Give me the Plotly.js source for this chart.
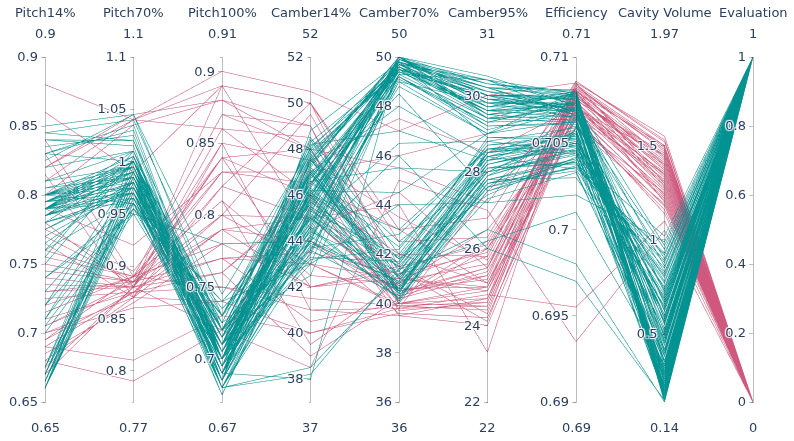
<!DOCTYPE html>
<html>
<head>
<meta charset="utf-8">
<script src="https://cdn.plot.ly/plotly-3.0.1.min.js"></script>
<style>
  html, body { margin: 0; padding: 0; background: #fff; }
  #chart { width: 794px; height: 441px; }
</style>
</head>
<body>
<div id="chart"></div>
<script>
// row groups: 22 fail, 50 pass, 14 fail, 30 pass, 10 fail, 30 pass (see evaluation)
const pitch14 = [
  0.88, 0.83, 0.82, 0.76, 0.75, 0.74, 0.71, 0.70, 0.69, 0.68, 0.66, 0.72, 0.77, 0.81, 0.73, 0.79, 0.69, 0.755, 0.70, 0.86, 0.745, 0.675,
  0.79, 0.80, 0.78, 0.85, 0.84, 0.83, 0.665, 0.67, 0.66, 0.70, 0.72, 0.76, 0.79, 0.80, 0.785, 0.795, 0.67, 0.675, 0.74, 0.81, 0.78, 0.79, 0.835, 0.665,
  0.66, 0.71, 0.73, 0.755, 0.785, 0.80, 0.845, 0.79, 0.67, 0.675, 0.77, 0.795, 0.805, 0.72, 0.78, 0.84, 0.665, 0.79, 0.705, 0.80, 0.785, 0.825, 0.66, 0.795, 0.75, 0.79,
  0.84, 0.78, 0.725, 0.705, 0.695, 0.765, 0.735, 0.685, 0.80, 0.715, 0.775, 0.67, 0.815, 0.745,
  0.79, 0.80, 0.785, 0.665, 0.67, 0.79, 0.795, 0.83, 0.78, 0.66, 0.805, 0.79, 0.74, 0.785, 0.80, 0.675, 0.79, 0.82, 0.765, 0.795, 0.665, 0.79, 0.71, 0.80, 0.785, 0.66, 0.79, 0.845, 0.775, 0.795,
  0.73, 0.69, 0.76, 0.705, 0.82, 0.68, 0.75, 0.715, 0.78, 0.695,
  0.79, 0.80, 0.665, 0.785, 0.795, 0.67, 0.78, 0.81, 0.66, 0.79, 0.80, 0.775, 0.675, 0.79, 0.83, 0.785, 0.665, 0.795, 0.76, 0.80, 0.79, 0.67, 0.785, 0.84, 0.79, 0.66, 0.80, 0.72, 0.795, 0.785
]
const pitch70 = [
  1.04, 0.88, 1.045, 0.89, 0.885, 0.88, 0.875, 0.87, 0.81, 0.79, 0.96, 0.89, 0.885, 1.04, 0.88, 0.92, 0.875, 0.89, 0.86, 0.99, 0.885, 0.88,
  0.98, 0.99, 0.97, 1.045, 1.02, 1.00, 0.96, 0.97, 0.98, 0.95, 0.99, 1.00, 1.01, 0.96, 0.975, 0.985, 0.99, 1.005, 0.95, 0.995, 0.965, 1.00, 1.025, 0.975,
  0.955, 0.985, 0.97, 1.01, 0.99, 0.98, 1.04, 0.96, 0.995, 0.965, 0.975, 1.00, 0.985, 0.99, 0.97, 1.015, 0.98, 0.995, 0.955, 1.005, 0.975, 1.045, 0.965, 0.985, 1.00, 0.97,
  0.89, 0.88, 0.875, 0.885, 0.89, 0.87, 0.88, 0.865, 1.035, 0.89, 0.895, 0.88, 0.87, 0.885,
  0.98, 0.995, 0.975, 0.985, 0.965, 1.005, 0.99, 1.03, 0.97, 0.98, 0.995, 0.985, 0.96, 1.0, 0.975, 0.99, 0.965, 1.01, 0.98, 0.995, 0.975, 1.005, 0.96, 0.985, 0.97, 1.0, 0.99, 1.02, 0.98, 0.975,
  0.885, 0.875, 0.89, 0.88, 1.04, 0.87, 0.885, 0.89, 0.88, 0.875,
  0.985, 0.99, 0.975, 1.0, 0.97, 0.985, 0.995, 1.01, 0.96, 0.98, 1.0, 0.975, 0.99, 0.985, 1.035, 0.97, 0.98, 0.995, 0.965, 1.005, 0.98, 0.99, 0.975, 1.02, 0.985, 0.97, 0.995, 0.955, 1.0, 0.98
]
const pitch100 = [
  0.90, 0.89, 0.88, 0.87, 0.84, 0.82, 0.80, 0.79, 0.73, 0.72, 0.71, 0.78, 0.85, 0.86, 0.76, 0.83, 0.80, 0.81, 0.74, 0.89, 0.77, 0.72,
  0.70, 0.69, 0.71, 0.745, 0.72, 0.73, 0.68, 0.675, 0.69, 0.70, 0.72, 0.71, 0.70, 0.685, 0.715, 0.705, 0.69, 0.68, 0.78, 0.70, 0.73, 0.72, 0.695, 0.71,
  0.70, 0.675, 0.69, 0.705, 0.685, 0.72, 0.73, 0.74, 0.68, 0.695, 0.70, 0.71, 0.69, 0.72, 0.705, 0.685, 0.70, 0.715, 0.73, 0.695, 0.70, 0.72, 0.685, 0.71, 0.69, 0.705,
  0.87, 0.83, 0.79, 0.77, 0.75, 0.82, 0.86, 0.78, 0.88, 0.81, 0.84, 0.76, 0.85, 0.80,
  0.70, 0.715, 0.69, 0.70, 0.685, 0.725, 0.71, 0.70, 0.695, 0.68, 0.705, 0.72, 0.71, 0.70, 0.735, 0.69, 0.70, 0.715, 0.68, 0.705, 0.72, 0.695, 0.71, 0.70, 0.725, 0.685, 0.70, 0.72, 0.69, 0.71,
  0.79, 0.75, 0.83, 0.77, 0.89, 0.74, 0.80, 0.78, 0.84, 0.76,
  0.705, 0.69, 0.70, 0.715, 0.685, 0.72, 0.70, 0.695, 0.71, 0.69, 0.725, 0.70, 0.68, 0.71, 0.70, 0.695, 0.715, 0.70, 0.73, 0.685, 0.705, 0.69, 0.72, 0.70, 0.71, 0.68, 0.695, 0.74, 0.705, 0.70
]
const camber14 = [
  50.5, 50, 49, 48, 46, 45, 43, 42, 40, 38.5, 47, 44, 41, 48.5, 39, 46.5, 49.5, 42.5, 45.5, 44.5, 40.5, 47.5,
  46, 47, 45, 48, 44, 46.5, 43.5, 45.5, 47.5, 44.5, 46, 48.5, 43, 45, 46.5, 47, 38, 38.5, 44, 45.8, 47.8, 42.5, 46.2, 44.8,
  47.2, 45.2, 43.8, 46.8, 47.6, 44.2, 48.2, 45.6, 38.2, 46.4, 43.2, 47.4, 45.4, 44.6, 46.6, 48.8, 43.6, 45.8, 47.0, 44.0, 46.0, 47.7, 45.0, 43.4, 46.3, 47.3,
  49, 47, 45, 43.5, 41.5, 50, 46, 44, 48, 39.5, 42, 45.8, 47.5, 43,
  45.5, 46.9, 44.3, 47.1, 45.3, 48.0, 43.9, 46.1, 47.5, 44.7, 45.9, 47.9, 43.3, 46.7, 44.9, 47.0, 45.7, 48.4, 44.1, 46.2, 47.4, 43.7, 46.5, 45.1, 47.8, 44.5, 46.0, 47.6, 45.3, 44.6,
  44, 41, 47, 43, 50, 40, 45, 42, 48, 46,
  46.4, 45.2, 47.3, 44.4, 46.8, 45.6, 47.7, 44.8, 46.1, 45.9, 43.6, 47.0, 45.4, 46.6, 48.1, 44.2, 46.3, 47.5, 45.0, 46.9, 44.6, 47.2, 45.7, 48.3, 46.0, 44.0, 46.7, 43.0, 45.5, 47.1
]
const camber70 = [
  47, 41, 40, 40.5, 39.5, 44, 40, 41, 39.8, 45, 46, 40.5, 39.5, 42, 40.2, 43, 41.5, 40.8, 39.8, 44.5, 40.0, 47.5,
  49.8, 40.5, 49.5, 41, 50, 48.5, 49, 41.5, 50, 40.2, 49.2, 42, 49.7, 40.8, 49.4, 48, 49.9, 41.2, 46, 49.6, 40.4, 49.3, 44.5, 49.8,
  41.8, 50, 40.6, 49.5, 40.1, 49.1, 47, 49.7, 41.4, 49.9, 42.2, 49.6, 40.7, 49.2, 45.5, 49.8, 40.3, 49.4, 41.0, 49.0, 43.0, 49.7, 40.5, 49.5, 41.6, 50.0,
  40.5, 39.7, 40.3, 41.2, 39.9, 42.5, 40.6, 39.6, 45.5, 40.9, 41.3, 40.1, 43.5, 39.9,
  49.6, 40.4, 49.9, 41.1, 49.3, 49.8, 40.9, 49.5, 42.5, 50.0, 40.2, 49.4, 41.7, 49.7, 46.5, 40.6, 49.9, 41.3, 49.2, 40.0, 49.6, 42.8, 49.8, 41.5, 49.5, 48.8, 40.5, 49.7, 41.9, 50.0,
  40.2, 39.8, 40.7, 41.0, 43.0, 39.6, 40.4, 41.5, 40.0, 42.0,
  49.7, 40.6, 49.9, 41.3, 49.5, 49.8, 40.3, 49.6, 41.8, 50.0, 49.3, 40.8, 49.8, 42.3, 49.4, 40.5, 49.9, 49.7, 41.1, 49.6, 40.2, 50.0, 41.6, 49.5, 49.8, 40.9, 49.2, 44.0, 49.7, 41.4
]
const camber95 = [
  30, 25, 24.5, 25.5, 24, 23.3, 25, 26, 24.8, 27, 29, 25.3, 24.7, 25.8, 26.2, 25.1, 24.3, 26.5, 27.5, 25.5, 24.9, 28.5,
  29.5, 28.5, 30, 28, 29.8, 27.5, 29, 28.2, 30.5, 27.8, 29.2, 28.8, 30.2, 27.6, 29.6, 28.4, 30, 26.5, 26, 29.4, 28.6, 30.4, 29, 28.9,
  27.4, 29.7, 28.1, 30.1, 27.9, 29.3, 28.3, 29.9, 26.2, 30.3, 28.7, 29.5, 27.7, 29.1, 28.0, 30.0, 27.3, 29.6, 28.5, 29.8, 28.6, 30.2, 27.6, 29.2, 28.9, 29.4,
  25.2, 24.6, 25.4, 25.9, 24.4, 26.3, 25.0, 24.2, 27.2, 25.6, 24.1, 26.0, 25.7, 24.6,
  29.7, 28.2, 30.1, 27.8, 29.4, 30.3, 28.4, 29.9, 28.0, 29.5, 27.5, 30.0, 28.7, 29.8, 28.8, 27.9, 30.2, 28.3, 29.3, 27.7, 29.6, 28.6, 30.0, 28.1, 29.9, 29.0, 27.6, 30.4, 28.5, 29.7,
  25.3, 24.5, 25.8, 24.9, 26.8, 24.2, 25.5, 26.1, 24.7, 25.1,
  29.8, 28.3, 30.2, 28.0, 29.6, 30.0, 27.8, 29.9, 28.4, 30.3, 29.4, 27.9, 30.1, 28.6, 29.7, 28.1, 30.4, 29.8, 28.2, 29.5, 27.7, 30.0, 28.5, 29.9, 30.2, 28.0, 29.3, 27.2, 29.6, 28.4
]
const efficiency = [
  0.7085, 0.7080, 0.7075, 0.7070, 0.7065, 0.7085, 0.7060, 0.7080, 0.6955, 0.6935, 0.7070, 0.7078, 0.7068, 0.7082, 0.7074, 0.7066, 0.7079, 0.7063, 0.7072, 0.7086, 0.7059, 0.7071,
  0.7070, 0.7060, 0.7075, 0.7055, 0.7065, 0.7040, 0.7080, 0.7050, 0.7072, 0.7030, 0.7062, 0.7045, 0.7068, 0.7058, 0.7073, 0.7035, 0.7064, 0.6980, 0.6970, 0.7076, 0.7048, 0.7066, 0.7070, 0.7052,
  0.7042, 0.7078, 0.7038, 0.7069, 0.7056, 0.7074, 0.7046, 0.7067, 0.7010, 0.7079, 0.7053, 0.7063, 0.7041, 0.7071, 0.7057, 0.7077, 0.7033, 0.7065, 0.7050, 0.7072, 0.7044, 0.7081, 0.7036, 0.7061, 0.7054, 0.7069,
  0.7083, 0.7077, 0.7069, 0.7081, 0.7073, 0.7084, 0.7076, 0.7067, 0.7080, 0.7070, 0.7078, 0.7064, 0.7075, 0.7082,
  0.7071, 0.7049, 0.7075, 0.7039, 0.7062, 0.7078, 0.7051, 0.7068, 0.7043, 0.7074, 0.7037, 0.7070, 0.7055, 0.7077, 0.7059, 0.7047, 0.7066, 0.7058, 0.7073, 0.7034, 0.7079, 0.7052, 0.7069, 0.7045, 0.7076, 0.7063, 0.7040, 0.7072, 0.7054, 0.7080,
  0.7079, 0.7072, 0.7084, 0.7068, 0.7086, 0.7065, 0.7081, 0.7074, 0.7083, 0.7077,
  0.7074, 0.7050, 0.7077, 0.7044, 0.7069, 0.7078, 0.7041, 0.7072, 0.7056, 0.7080, 0.7066, 0.7046, 0.7075, 0.7053, 0.7071, 0.7039, 0.7079, 0.7073, 0.7048, 0.7070, 0.7036, 0.7076, 0.7051, 0.7068, 0.7078, 0.7043, 0.7064, 0.7020, 0.7072, 0.7049
]
const cavity = [
  1.55, 1.50, 1.45, 1.40, 1.35, 1.30, 1.25, 1.20, 1.10, 1.05, 1.45, 1.38, 1.32, 1.48, 1.27, 1.22, 1.42, 1.16, 1.35, 1.52, 1.19, 1.30,
  0.25, 0.40, 0.15, 0.60, 0.90, 0.35, 0.20, 0.50, 0.18, 0.70, 0.30, 0.80, 0.22, 0.45, 0.16, 0.65, 0.28, 0.14, 0.15, 0.55, 0.38, 0.95, 0.24, 0.60,
  0.32, 0.19, 0.85, 0.42, 0.26, 0.72, 0.17, 0.58, 0.34, 0.21, 0.68, 0.29, 1.02, 0.48, 0.23, 0.62, 0.36, 0.16, 0.78, 0.27, 0.52, 0.19, 0.88, 0.31, 0.44, 0.20,
  1.47, 1.41, 1.36, 1.28, 1.24, 1.50, 1.33, 1.21, 1.44, 1.29, 1.37, 1.18, 1.46, 1.39,
  0.18, 0.57, 0.15, 0.75, 0.22, 0.41, 0.17, 0.66, 0.25, 0.35, 0.92, 0.20, 0.47, 0.14, 0.83, 0.28, 0.53, 0.19, 0.97, 0.33, 0.16, 0.74, 0.26, 0.39, 0.15, 0.60, 0.21, 0.86, 0.30, 0.18,
  1.34, 1.23, 1.43, 1.26, 1.53, 1.14, 1.40, 1.31, 1.49, 1.37,
  0.46, 0.63, 0.29, 0.71, 0.38, 0.55, 0.81, 0.24, 0.67, 0.33, 0.49, 0.77, 0.19, 0.59, 0.42, 0.89, 0.27, 0.51, 0.64, 0.36, 0.93, 0.17, 0.73, 0.45, 0.22, 0.82, 0.56, 0.99, 0.40, 0.69
]
const evaluation = [
  0, 0, 0, 0, 0, 0, 0, 0, 0, 0, 0, 0, 0, 0, 0, 0, 0, 0, 0, 0, 0, 0,
  1, 1, 1, 1, 1, 1, 1, 1, 1, 1, 1, 1, 1, 1, 1, 1, 1, 1, 1, 1, 1, 1, 1, 1,
  1, 1, 1, 1, 1, 1, 1, 1, 1, 1, 1, 1, 1, 1, 1, 1, 1, 1, 1, 1, 1, 1, 1, 1, 1, 1,
  0, 0, 0, 0, 0, 0, 0, 0, 0, 0, 0, 0, 0, 0,
  1, 1, 1, 1, 1, 1, 1, 1, 1, 1, 1, 1, 1, 1, 1, 1, 1, 1, 1, 1, 1, 1, 1, 1, 1, 1, 1, 1, 1, 1,
  0, 0, 0, 0, 0, 0, 0, 0, 0, 0,
  1, 1, 1, 1, 1, 1, 1, 1, 1, 1, 1, 1, 1, 1, 1, 1, 1, 1, 1, 1, 1, 1, 1, 1, 1, 1, 1, 1, 1, 1
]

const axisNames = ['Pitch14%', 'Pitch70%', 'Pitch100%', 'Camber14%', 'Camber70%', 'Camber95%', 'Efficiency', 'Cavity Volume', 'Evaluation']
const axisRanges = [[0.65, 0.9], [0.77, 1.1], [0.67, 0.91], [37, 52], [36, 50], [22, 31], [0.69, 0.71], [0.14, 1.97], [0, 1]]
const camber95Ticks = [22, 24, 26, 28, 30]
const cavityTicks = [0.5, 1, 1.5]

const textFont = { family: '"DejaVu Sans", Verdana, sans-serif', size: 13, color: '#2a3f5f' }
const hiddenFont = { family: textFont.family, size: 13, color: 'rgba(0,0,0,0)' }

const columns = [pitch14, pitch70, pitch100, camber14, camber70, camber95, efficiency, cavity, evaluation]
const dimensions = columns.map((values, i) => ({ label: '', values: values, range: axisRanges[i] }))
dimensions[5].tickvals = camber95Ticks
dimensions[7].tickvals = cavityTicks

const trace = {
  type: 'parcoords',
  labelfont: textFont,
  tickfont: textFont,
  rangefont: hiddenFont,
  line: {
    color: evaluation,
    colorscale: [[0, 'rgb(208,88,126)'], [1, 'rgb(0,147,146)']]
  },
  dimensions: dimensions
}

// axis titles and min/max labels sit a bit further out than plotly v3 puts them
const annotations = []
axisNames.forEach((name, i) => {
  const base = { xref: 'paper', yref: 'paper', x: i / 8, xanchor: 'center', yanchor: 'middle', showarrow: false, font: textFont }
  annotations.push(Object.assign({}, base, { y: 1, yshift: 43, text: name }))
  annotations.push(Object.assign({}, base, { y: 1, yshift: 22, text: String(axisRanges[i][1]) }))
  annotations.push(Object.assign({}, base, { y: 0, yshift: -23, text: String(axisRanges[i][0]) }))
})

const layout = {
  width: 794,
  height: 441,
  margin: { l: 45, r: 41, t: 55, b: 37 },
  font: textFont,
  paper_bgcolor: '#fff',
  annotations: annotations
}

Plotly.newPlot('chart', [trace], layout, { displayModeBar: false })
</script>
</body>
</html>
